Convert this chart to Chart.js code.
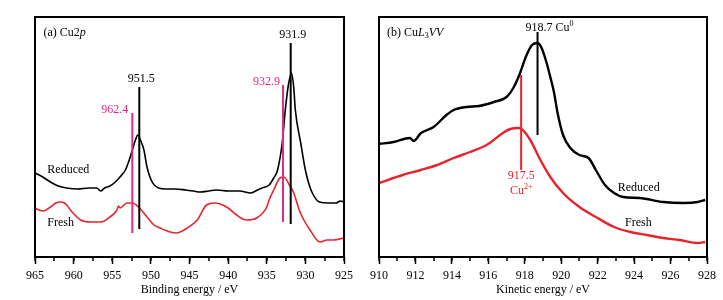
<!DOCTYPE html>
<html>
<head>
<meta charset="utf-8">
<script src="https://cdn.jsdelivr.net/npm/chart.js@4.4.0/dist/chart.umd.min.js"></script>
<style>
html,body{margin:0;padding:0;background:#fff}
#wrap{position:relative;width:723px;height:300px}
canvas{position:absolute;top:0}
#cvA{left:0}
#cvB{left:360px}
</style>
</head>
<body>
<div id="wrap">
  <canvas id="cvA" width="360" height="300"></canvas>
  <canvas id="cvB" width="363" height="300"></canvas>
</div>
<script>
/* ── (a) Cu2p : binding energy (eV) / intensity (a.u.) ── */
const cu2pReducedBE=[965.0,964.0,963.0,962.0,960.9,959.5,958.0,957.0,956.5,956.0,955.3,954.6,954.0,953.3,952.8,952.4,952.0,951.7,951.3,950.9,950.5,949.9,949.0,948.0,946.8,945.5,944.5,943.6,942.5,941.5,940.0,938.5,937.1,936.2,935.6,934.7,934.1,933.6,933.0,932.6,932.2,931.8,931.5,931.3,930.6,930.0,929.5,929.1,928.2,927.0,926.0,925.5,925.0];
const cu2pReducedI=[84,80,75,71,69,68,69,69,66,69,71,75,80,87,97,107,117,122,116,107,90,76,69,68,68,67,66,65,66,67,66,66,64,67,69,72,79,87,114,147,172,184,169,147,114,87,72,64,55,54,54,56,55];
const cu2pFreshBE=[965.0,964.5,963.9,963.0,962.3,961.7,961.2,960.9,960.2,959.1,957.8,956.5,955.3,954.4,954.2,954.0,953.1,952.4,951.6,950.5,949.6,948.8,947.5,946.7,945.3,944.0,942.8,941.7,940.2,938.9,937.6,936.3,935.0,934.7,934.1,933.3,932.8,932.0,931.5,930.8,930.2,929.4,928.1,927.2,926.3,925.0];
const cu2pFreshI=[49,47,46,50,54,55,54,52,45,37,35,35,40,47,51,49,54,54,50,40,32,29,25,24,29,37,52,54,50,42,37,39,50,57,67,79,80,71,64,47,37,27,15,17,17,19];
const cu2pMarkBE=[952.4,951.5,932.9,931.9];
const cu2pMarkLo=[24,28,35,33];
const cu2pMarkHi=[144,170,172,214];
const cu2pMarkText=['962.4','951.5','932.9','931.9'];

/* ── (b) CuL3VV : kinetic energy (eV) / intensity (a.u.) ── */
const auReducedKE=[910.0,910.8,911.7,911.9,912.3,913.0,913.7,914.1,914.8,915.5,916.3,917.0,917.4,917.7,918.1,918.4,918.7,918.9,919.2,919.4,919.6,919.8,920.1,920.5,921.0,921.5,921.9,922.4,922.9,923.4,924.3,925.6,926.7,927.5,927.9];
const auReducedI=[113,115,119,116,124,130,142,147,150,151,155,160,170,182,202,212,214,210,194,180,165,144,122,109,102,99,87,72,64,60,59,55,54,55,57];
const auFreshKE=[910.0,911.3,912.3,913.2,914.1,915.0,915.9,916.8,917.2,917.7,918.3,918.8,919.4,920.1,921.0,921.9,922.9,923.8,924.7,925.6,926.5,927.5,927.9];
const auFreshI=[74,82,87,92,99,105,112,124,128,129,117,99,80,64,50,40,30,25,22,19,17,14,15];
const auMarkKE=[918.7,917.8];
const auMarkLo=[122,87];
const auMarkHi=[225,182];

const FONT='"Liberation Serif","Times New Roman",serif';
const BLACK='#000', RED='#e8242b', MAGENTA='#dd2a86';

const zip=(xs,ys)=>xs.map((x,i)=>({x,y:ys[i]}));
const mark=(x,lo,hi,color)=>({data:[{x,y:lo},{x,y:hi}],borderColor:color,borderWidth:2});
const curve=(xs,ys,color,w)=>({data:zip(xs,ys),borderColor:color,borderWidth:w,cubicInterpolationMode:'monotone'});

/* rich text: parts = [{t, i(talic), sub, sup}] */
function drawRich(ctx,x,y,parts,align,color){
  const fontOf=p=>(p.i?'italic ':'')+((p.sub||p.sup)?'8px ':'12px ')+FONT;
  let w=0;
  parts.forEach(p=>{ctx.font=fontOf(p);w+=ctx.measureText(p.t).width;});
  let cx=align==='center'?x-w/2:align==='right'?x-w:x;
  ctx.fillStyle=color;ctx.textBaseline='middle';ctx.textAlign='left';
  parts.forEach(p=>{
    ctx.font=fontOf(p);
    const dy=p.sub?3:p.sup?-4:0;
    ctx.fillText(p.t,cx,y+dy);
    cx+=ctx.measureText(p.t).width;
  });
}

const framePlugin={
  id:'frame',
  afterDatasetsDraw(chart,args,opts){
    const {ctx,chartArea:a,scales:{x,y}}=chart;
    ctx.save();
    ctx.strokeStyle='#000';ctx.lineWidth=1.5;
    for(let v=opts.min;v<=opts.max+1e-6;v+=opts.minor){
      const px=Math.round(x.getPixelForValue(v));
      ctx.beginPath();ctx.moveTo(px,a.bottom);ctx.lineTo(px,a.bottom+4);ctx.stroke();
    }
    ctx.lineWidth=2;
    ctx.strokeRect(a.left,a.top,a.right-a.left,a.bottom-a.top);
    opts.labels.forEach(l=>{
      drawRich(ctx,x.getPixelForValue(l.x)+(l.dx||0),y.getPixelForValue(l.y)+(l.dy||0),l.parts,l.align||'left',l.color||BLACK);
    });
    ctx.restore();
  }
};

function makeChart(id,cfg){
  return new Chart(document.getElementById(id),{
    type:'line',
    data:{datasets:cfg.datasets},
    options:{
      responsive:false,animation:false,devicePixelRatio:1,
      layout:{padding:cfg.pad},
      plugins:{legend:{display:false},tooltip:{enabled:false},frame:cfg.frame},
      elements:{point:{radius:0},line:{tension:0,borderJoinStyle:'round'}},
      scales:{
        x:{
          type:'linear',reverse:cfg.reverse,min:cfg.min,max:cfg.max,
          afterFit(s){s.height=43;},
          ticks:{stepSize:cfg.step,color:'#000',font:{family:FONT,size:12},padding:5,maxRotation:0,autoSkip:false},
          grid:{drawOnChartArea:false,drawTicks:true,tickLength:7,tickWidth:1.5,tickColor:'#000'},
          border:{display:false},
          title:{display:true,text:cfg.title,color:'#000',font:{family:FONT,size:12},padding:{top:0,bottom:3}}
        },
        y:{display:false,min:0,max:240}
      }
    },
    plugins:[framePlugin]
  });
}

/* ── Panel (a) ── */
const markColorsA=[MAGENTA,BLACK,MAGENTA,BLACK];
makeChart('cvA',{
  pad:{left:35,right:16,top:17,bottom:0},
  reverse:true,min:925,max:965,step:5,title:'Binding energy / eV',
  datasets:[
    ...cu2pMarkBE.map((b,i)=>mark(b,cu2pMarkLo[i],cu2pMarkHi[i],markColorsA[i])),
    curve(cu2pReducedBE,cu2pReducedI,BLACK,1.6),
    curve(cu2pFreshBE,cu2pFreshI,RED,1.6)
  ],
  frame:{min:925,max:965,minor:2.5,labels:[
    {x:963.9,y:224,parts:[{t:'(a) Cu2'},{t:'p',i:1}]},
    {x:963.4,y:87,parts:[{t:'Reduced'}]},
    {x:963.4,y:34,parts:[{t:'Fresh'}]},
    {x:cu2pMarkBE[0],y:cu2pMarkHi[0],dx:-4,dy:-3,align:'right',color:MAGENTA,parts:[{t:cu2pMarkText[0]}]},
    {x:cu2pMarkBE[1],y:cu2pMarkHi[1],dx:2,dy:-8,align:'center',parts:[{t:cu2pMarkText[1]}]},
    {x:cu2pMarkBE[2],y:cu2pMarkHi[2],dx:-3,dy:-3,align:'right',color:MAGENTA,parts:[{t:cu2pMarkText[2]}]},
    {x:cu2pMarkBE[3],y:cu2pMarkHi[3],dx:2,dy:-8,align:'center',parts:[{t:cu2pMarkText[3]}]}
  ]}
});

/* ── Panel (b) ── */
makeChart('cvB',{
  pad:{left:19,right:16,top:17,bottom:0},
  reverse:false,min:910,max:928,step:2,title:'Kinetic energy / eV',
  datasets:[
    mark(auMarkKE[0],auMarkLo[0],auMarkHi[0],BLACK),
    mark(auMarkKE[1],auMarkLo[1],auMarkHi[1],RED),
    curve(auReducedKE,auReducedI,BLACK,2.4),
    curve(auFreshKE,auFreshI,RED,2.4)
  ],
  frame:{min:910,max:928,minor:1,labels:[
    {x:910.44,y:224,parts:[{t:'(b) Cu'},{t:'L',i:1},{t:'3',sub:1},{t:'VV',i:1}]},
    {x:auMarkKE[0],y:auMarkHi[0],dx:-12,dy:-4,parts:[{t:'918.7 Cu'},{t:'0',sup:1}]},
    {x:auMarkKE[1],y:auMarkLo[1],dy:6,align:'center',color:RED,parts:[{t:'917.5'}]},
    {x:auMarkKE[1],y:auMarkLo[1],dy:21,align:'center',color:RED,parts:[{t:'Cu'},{t:'2+',sup:1}]},
    {x:923.1,y:69,parts:[{t:'Reduced'}]},
    {x:923.5,y:34,parts:[{t:'Fresh'}]}
  ]}
});
</script>
</body>
</html>
